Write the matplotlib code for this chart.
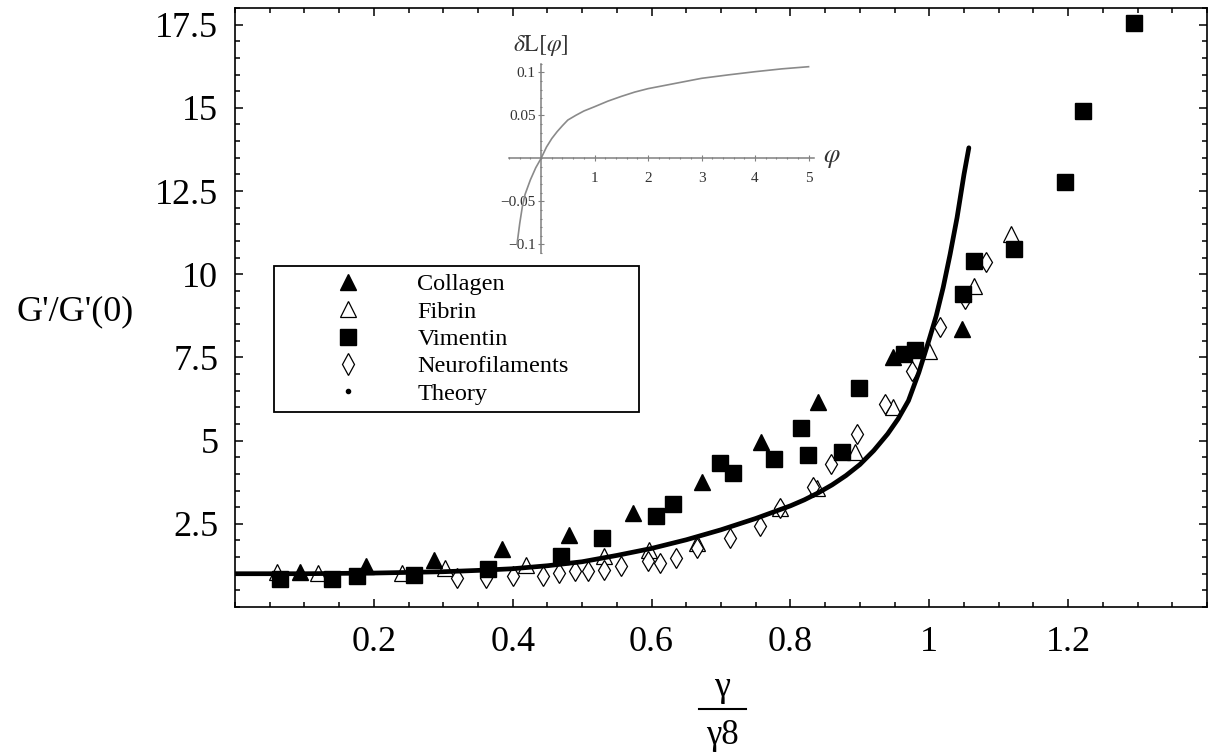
import numpy as np
import matplotlib.pyplot as plt
from matplotlib.lines import Line2D
from matplotlib.ticker import FixedLocator, FixedFormatter, MultipleLocator

plt.rcParams['font.family'] = ['Liberation Serif', 'DejaVu Serif']
plt.rcParams['mathtext.fontset'] = 'stix'

# --- data ---
collagen_x = [0.093, 0.189, 0.287, 0.384, 0.481, 0.573, 0.672, 0.757, 0.840, 0.948, 1.047]
collagen_y = [1.05, 1.22, 1.42, 1.74, 2.17, 2.82, 3.76, 4.96, 6.16, 7.50, 8.36]

fibrin_x = [0.060, 0.120, 0.241, 0.303, 0.419, 0.532, 0.597, 0.665, 0.785, 0.838,
            0.893, 0.948, 0.999, 1.064, 1.118]
fibrin_y = [1.06, 1.03, 1.03, 1.17, 1.27, 1.52, 1.70, 1.92, 2.97, 3.57,
            4.66, 6.01, 7.70, 9.65, 11.2]

vimentin_x = [0.065, 0.140, 0.175, 0.258, 0.365, 0.470, 0.529, 0.607, 0.631, 0.698,
              0.717, 0.777, 0.815, 0.826, 0.874, 0.899, 0.963, 0.980, 1.048, 1.065,
              1.122, 1.195, 1.222, 1.295]
vimentin_y = [0.85, 0.85, 0.92, 0.97, 1.14, 1.52, 2.07, 2.72, 3.10, 4.34,
              4.03, 4.46, 5.38, 4.58, 4.66, 6.59, 7.60, 7.71, 9.42, 10.4,
              10.75, 12.77, 14.9, 17.54]

neuro_x = [0.320, 0.361, 0.400, 0.443, 0.467, 0.489, 0.508, 0.532, 0.556, 0.595,
           0.612, 0.635, 0.665, 0.713, 0.756, 0.785, 0.833, 0.859, 0.896, 0.936,
           0.975, 1.016, 1.052, 1.082]
neuro_y = [0.87, 0.88, 0.92, 0.92, 1.03, 1.07, 1.07, 1.12, 1.22, 1.37,
           1.32, 1.47, 1.77, 2.07, 2.42, 2.97, 3.61, 4.31, 5.21, 6.11,
           7.10, 8.40, 9.26, 10.38]

theory_x = [0.0, 0.1, 0.2, 0.3, 0.35, 0.4, 0.45, 0.5, 0.55, 0.6, 0.65, 0.7, 0.75,
            0.8, 0.82, 0.84, 0.86, 0.88, 0.9, 0.92, 0.94, 0.955, 0.97, 0.985,
            1.0, 1.01, 1.02, 1.03, 1.04, 1.05, 1.057]
theory_y = [1.0, 1.0, 1.02, 1.06, 1.1, 1.15, 1.24, 1.36, 1.55, 1.76, 2.02, 2.32, 2.66,
            3.04, 3.22, 3.43, 3.67, 3.95, 4.28, 4.7, 5.2, 5.65, 6.2, 7.05,
            8.05, 8.75, 9.6, 10.6, 11.7, 13.0, 13.8]

# inset: delta L[phi]
phi = [-0.45, -0.4, -0.35, -0.3, -0.2, -0.1, 0.0, 0.1, 0.2, 0.3, 0.4, 0.5, 0.65, 0.8,
       1.0, 1.25, 1.5, 1.75, 2.0, 2.5, 3.0, 3.5, 4.0, 4.5, 5.0]
dL = [-0.100, -0.076, -0.056, -0.042, -0.025, -0.011, 0.0, 0.013, 0.023, 0.031,
      0.038, 0.0445, 0.050, 0.055, 0.060, 0.0665, 0.072, 0.077, 0.081, 0.087,
      0.093, 0.097, 0.1007, 0.104, 0.1065]

x_ticks = [0.2, 0.4, 0.6, 0.8, 1.0, 1.2]
x_labels = ['0.2', '0.4', '0.6', '0.8', '1', '1.2']
y_ticks = [2.5, 5, 7.5, 10, 12.5, 15, 17.5]
y_labels = ['2.5', '5', '7.5', '10', '12.5', '15', '17.5']

W, H = 1211, 752
fig = plt.figure(figsize=(W / 100, H / 100), dpi=100)
ax = fig.add_axes([235 / W, 145 / H, 972 / W, 599 / H])

ax.plot(fibrin_x, fibrin_y, ls='none', marker='^', ms=11, mfc='white', mec='black', mew=0.9)
ax.plot(neuro_x, neuro_y, ls='none', marker='d', ms=10.5, mfc='white', mec='black', mew=0.9)
ax.plot(collagen_x, collagen_y, ls='none', marker='^', ms=11, color='black')
ax.plot(vimentin_x, vimentin_y, ls='none', marker='s', ms=12, color='black')
ax.plot(theory_x, theory_y, color='black', lw=3.4, solid_capstyle='round', solid_joinstyle='round')

ax.set_xlim(0, 1.4)
ax.set_ylim(0, 18)
ax.xaxis.set_major_locator(FixedLocator(x_ticks))
ax.xaxis.set_major_formatter(FixedFormatter(x_labels))
ax.xaxis.set_minor_locator(MultipleLocator(0.05))
ax.yaxis.set_major_locator(FixedLocator(y_ticks))
ax.yaxis.set_major_formatter(FixedFormatter(y_labels))
ax.yaxis.set_minor_locator(MultipleLocator(0.5))
ax.tick_params(which='both', direction='in', top=True, right=True, width=1.1)
ax.tick_params(which='major', length=5.5, labelsize=26)
ax.tick_params(which='minor', length=3.5)
ax.tick_params(axis='x', which='major', pad=14)
ax.tick_params(axis='y', which='major', pad=12)
for s in ax.spines.values():
    s.set_linewidth(1.2)

# axis labels
fig.text(75 / W, 1 - 312 / H, "G'/G'(0)", fontsize=26, ha='center', va='center')
fig.text(722 / W, 1 - 688 / H, 'γ', fontsize=26, ha='center', va='center')
fig.add_artist(Line2D([699 / W, 746 / W], [1 - 709 / H, 1 - 709 / H], color='black', lw=1.5))
fig.text(722 / W, 1 - 735 / H, 'γ8', fontsize=25, ha='center', va='center')

# legend
handles = [
    Line2D([], [], ls='none', marker='^', ms=12, color='black'),
    Line2D([], [], ls='none', marker='^', ms=12, mfc='white', mec='black', mew=0.9),
    Line2D([], [], ls='none', marker='s', ms=12, color='black'),
    Line2D([], [], ls='none', marker='d', ms=11, mfc='white', mec='black', mew=0.9),
    Line2D([], [], ls='none', marker='o', ms=3, color='black'),
]
names = ['Collagen', 'Fibrin', 'Vimentin', 'Neurofilaments', 'Theory']
leg = ax.legend(handles, names, loc='upper left', mode='expand',
                bbox_to_anchor=(274 / W, 1 - 436 / H, 365 / W, 170 / H),
                bbox_transform=fig.transFigure, borderaxespad=0,
                fontsize=17.5, handlelength=5.5, handletextpad=0.1,
                borderpad=0.3, labelspacing=0.22, numpoints=1,
                fancybox=False, framealpha=1, edgecolor='black')
leg.get_frame().set_linewidth(1.3)

# inset
ins = fig.add_axes([509 / W, 1 - 252.9 / H, 304.9 / W, 189.2 / H])
ins.patch.set_alpha(0)
gray = '#808080'
ins.plot(phi, dL, color='#8a8a8a', lw=1.2)
ins.set_xlim(-0.6, 5.1)
ins.set_ylim(-0.11, 0.11)
for s in ['top', 'right']:
    ins.spines[s].set_visible(False)
for s in ['left', 'bottom']:
    ins.spines[s].set_position(('data', 0))
    ins.spines[s].set_color(gray)
    ins.spines[s].set_linewidth(1.1)
ins.xaxis.set_major_locator(FixedLocator([1, 2, 3, 4, 5]))
ins.xaxis.set_major_formatter(FixedFormatter(['1', '2', '3', '4', '5']))
ins.xaxis.set_minor_locator(MultipleLocator(0.2))
ins.yaxis.set_major_locator(FixedLocator([-0.1, -0.05, 0.05, 0.1]))
ins.yaxis.set_major_formatter(FixedFormatter(['\u22120.1', '\u22120.05', '0.05', '0.1']))
ins.yaxis.set_minor_locator(MultipleLocator(0.01))
ins.tick_params(which='both', direction='inout', color=gray, labelcolor='#333333', width=0.8)
ins.tick_params(which='major', length=4, labelsize=11)
ins.tick_params(which='minor', length=2)
ins.tick_params(axis='x', pad=8)
ins.tick_params(axis='y', pad=2)
fig.text(541 / W, 1 - 45 / H, r'$\delta\mathrm{L}[\varphi]$', fontsize=17, ha='center', va='center', color='#333333')
fig.text(832 / W, 1 - 159 / H, r'$\varphi$', fontsize=19, ha='center', va='center', color='#333333')

fig.savefig('out.png', dpi=100)
